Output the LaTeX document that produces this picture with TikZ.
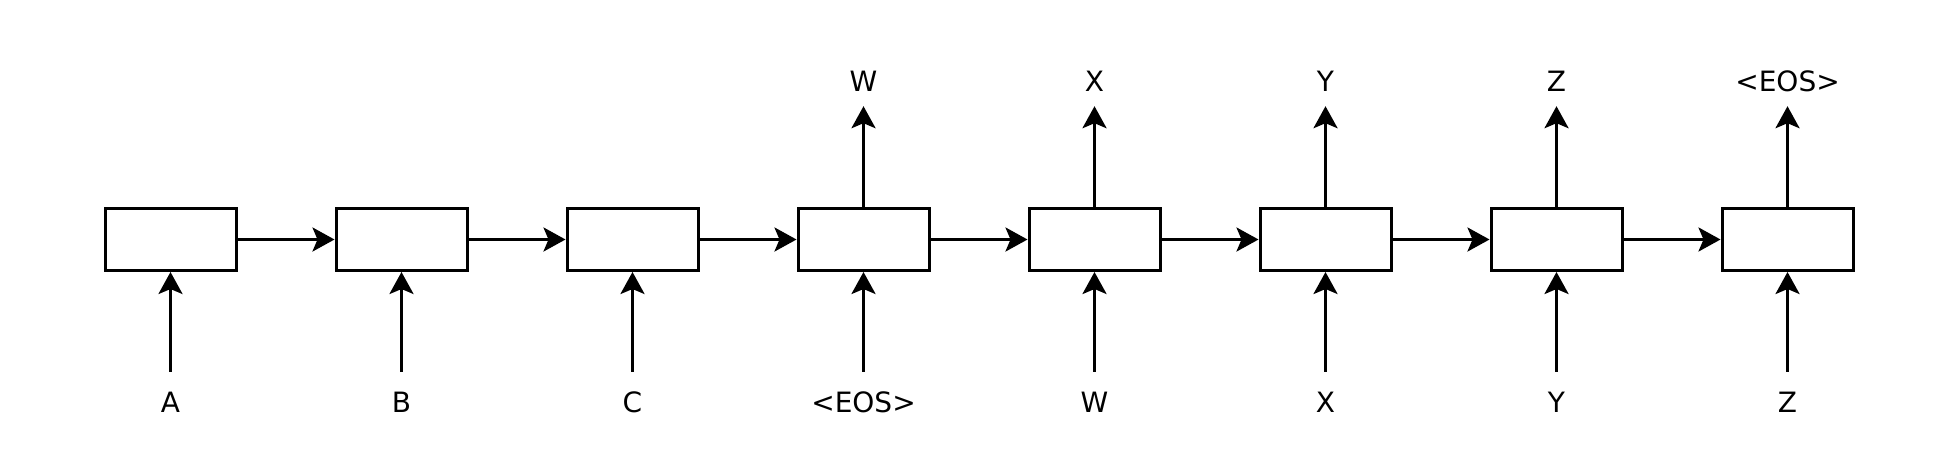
\documentclass[tikz,border=0pt]{standalone}
\usepackage{fontspec}
\setmainfont{DejaVu Sans}
\usetikzlibrary{arrows.meta}
\begin{document}
\begin{tikzpicture}[x=1pt,y=-1pt,
  cell/.style={draw, line width=3pt, minimum width=131pt, minimum height=62pt, inner sep=0pt},
  lbl/.style={inner sep=0pt, anchor=base, font=\fontsize{28}{34}\selectfont, text height=20pt, text depth=0pt},
  conn/.style={line width=3pt, -{Stealth[length=22pt,width=24pt,inset=5pt]}}]
\useasboundingbox (0,0) rectangle (1956,460);
\foreach \i in {1,...,8} {
  \node[cell] (b\i) at ({170.5+231*(\i-1)},239.5) {};
}
\foreach \i/\t in {1/A,2/B,3/C,4/{<EOS>},5/W,6/X,7/Y,8/Z} {
  \node[lbl] (in\i) at ({170.5+231*(\i-1)},412) {\t};
  \draw[conn, shorten <=20pt] (in\i.north) -- (b\i.south);
}
\foreach \i/\t in {4/W,5/X,6/Y,7/Z,8/{<EOS>}} {
  \node[lbl] (out\i) at ({170.5+231*(\i-1)},91) {\t};
  \draw[conn, shorten >=15pt] (b\i.north) -- (b\i.north |- out\i.south);
}
\foreach \i [evaluate=\i as \j using int(\i+1)] in {1,...,7} {
  \draw[conn] (b\i.east) -- (b\j.west);
}
\end{tikzpicture}
\end{document}
